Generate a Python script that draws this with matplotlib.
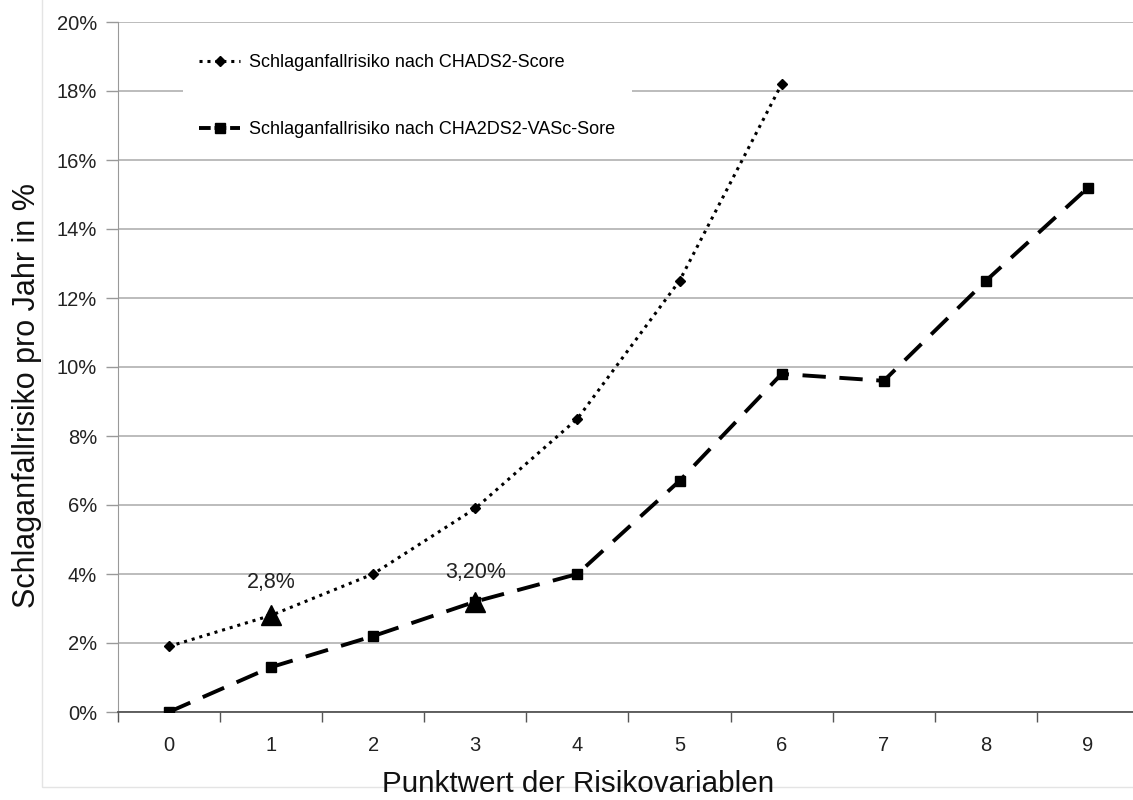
import matplotlib.pyplot as plt
from matplotlib.ticker import FuncFormatter, FixedLocator
from matplotlib.lines import Line2D

plt.rcParams['font.family'] = ['Liberation Sans', 'DejaVu Sans']

# Risk points and yearly stroke risk (%)
chads2_points = [0, 1, 2, 3, 4, 5, 6]
chads2_risk = [1.9, 2.8, 4.0, 5.9, 8.5, 12.5, 18.2]

vasc_points = [0, 1, 2, 3, 4, 5, 6, 7, 8, 9]
vasc_risk = [0.0, 1.3, 2.2, 3.2, 4.0, 6.7, 9.8, 9.6, 12.5, 15.2]

# Highlighted points with value labels
marked_x = [1, 3]
marked_y = [2.8, 3.2]
marked_labels = ["2,8%", "3,20%"]

fig = plt.figure(figsize=(11.33, 8), dpi=100)
ax = fig.add_axes([0.104, 0.11, 0.896, 0.8625])

ax.plot(chads2_points, chads2_risk, color="black", linestyle=(0, (1, 1.6)),
        linewidth=2.2, marker="D", markersize=5.5, zorder=3)
ax.plot(vasc_points, vasc_risk, color="black", linestyle=(0, (6, 3.5)),
        linewidth=2.8, marker="s", markersize=7.5, zorder=3)

ax.plot(marked_x, marked_y, linestyle="none", marker="^", markersize=14,
        color="black", zorder=4)
for x, y, lab, off in zip(marked_x, marked_y, marked_labels, [24, 21]):
    ax.annotate(lab, (x, y), xytext=(0, off), textcoords="offset points",
                ha="center", va="center", fontsize=15.5, color="#222222")

ax.set_xlim(-0.5, 9.44)
ax.set_ylim(0, 20)

ax.set_yticks(range(0, 21, 2))
ax.yaxis.set_major_formatter(FuncFormatter(lambda v, p: f"{int(v)}%"))
ax.set_xticks(range(10))
ax.xaxis.set_minor_locator(FixedLocator([i - 0.5 for i in range(11)]))
ax.tick_params(axis="x", which="major", length=0, pad=17, labelsize=14.5,
               labelcolor="#222222")
ax.tick_params(axis="x", which="minor", length=7, width=1, color="#555555",
               direction="out")
ax.tick_params(axis="y", length=9, width=1, color="#999999", pad=6,
               labelsize=14.5, labelcolor="#222222")

ax.grid(axis="y", color="#aaaaaa", linewidth=1.1)
ax.set_axisbelow(True)
for s in ["top", "right"]:
    ax.spines[s].set_visible(False)
ax.spines["left"].set_color("#999999")
ax.spines["bottom"].set_color("#555555")
ax.spines["bottom"].set_linewidth(1.3)

ax.set_xlabel("Punktwert der Risikovariablen", fontsize=21.3, labelpad=2,
              color="#111111")
ax.xaxis.set_label_coords(0.453, -0.084)
ax.set_ylabel("Schlaganfallrisiko pro Jahr in %", fontsize=22,
              color="#111111")
ax.yaxis.set_label_coords(-0.075, 0.459)

handles = [
    Line2D([], [], color="black", linestyle=(0, (1, 1.6)), linewidth=2.2,
           marker="D", markersize=5.5),
    Line2D([], [], color="black", linestyle=(0, (3, 1)), linewidth=2.8,
           marker="s", markersize=7.5),
]
leg = ax.legend(handles,
                ["Schlaganfallrisiko nach CHADS2-Score",
                 "Schlaganfallrisiko nach CHA2DS2-VASc-Sore"],
                loc="upper left", bbox_to_anchor=(0.055, 0.99),
                frameon=True, facecolor="white", edgecolor="white",
                framealpha=1, fancybox=False, fontsize=13,
                labelspacing=2.75, handlelength=2.3, handletextpad=0.5,
                borderpad=0.9)
leg.get_frame().set_linewidth(0)

# light border around the plotting area
fig.add_artist(plt.Rectangle((0.037, 0.016), 1.0, 0.99, transform=fig.transFigure,
                             fill=False, edgecolor="#e4e4e4", linewidth=1,
                             zorder=0))

fig.savefig("out.png", dpi=100)
